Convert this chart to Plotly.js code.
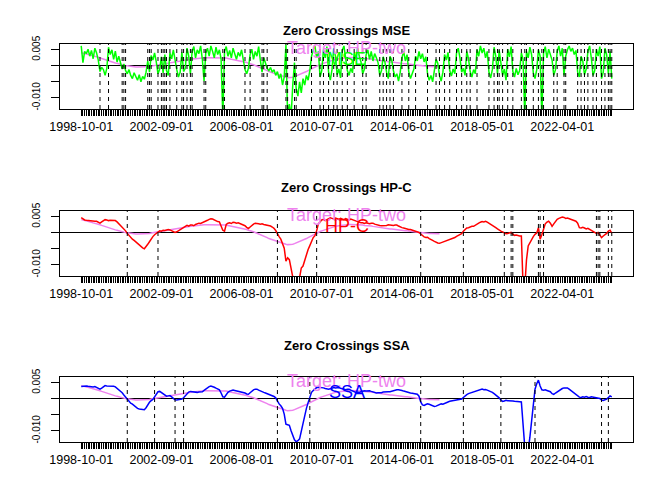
<!DOCTYPE html>
<html>
<head>
<meta charset="utf-8">
<script src="https://cdn.plot.ly/plotly-3.0.1.min.js"></script>
<style>
  body { margin: 0; background: white; }
  #zeroDiv { width: 664px; height: 498px; }
</style>
</head>
<body>
<div id="zeroDiv"></div>
<script>
// Zero crossings of three real-time filters against the HP-two target
// monthly observations 1998-10-01 .. 2024-09-01, x axis is the observation number

var labelIdx = [1, 48, 95, 142, 189, 236, 283];
var labelText = ['1998-10-01', '2002-09-01', '2006-08-01', '2010-07-01', '2014-06-01', '2018-05-01', '2022-04-01'];

// two-sided target, ends before the sample does
var target = [
  0.0041, 0.0040, 0.0038, 0.0037, 0.0036, 0.0034, 0.0033, 0.0031, 0.0030, 0.0028,
  0.0026, 0.0025, 0.0023, 0.0021, 0.0020, 0.0018, 0.0016, 0.0014, 0.0013, 0.0011,
  0.0009, 0.0008, 0.0006, 0.0005, 0.0003, 0.0002, 0.0001, 0.0000, -0.0002, -0.0003,
  -0.0003, -0.0004, -0.0004, -0.0004, -0.0004, -0.0004, -0.0004, -0.0003, -0.0003, -0.0002,
  -0.0002, -0.0001, 0.0000, 0.0001, 0.0002, 0.0003, 0.0004, 0.0005, 0.0006, 0.0007,
  0.0008, 0.0009, 0.0010, 0.0011, 0.0012, 0.0013, 0.0014, 0.0015, 0.0016, 0.0017,
  0.0017, 0.0018, 0.0019, 0.0020, 0.0021, 0.0021, 0.0022, 0.0022, 0.0023, 0.0023,
  0.0024, 0.0024, 0.0025, 0.0025, 0.0025, 0.0026, 0.0026, 0.0026, 0.0026, 0.0026,
  0.0026, 0.0025, 0.0025, 0.0025, 0.0024, 0.0024, 0.0023, 0.0022, 0.0021, 0.0020,
  0.0019, 0.0018, 0.0017, 0.0016, 0.0015, 0.0013, 0.0012, 0.0010, 0.0008, 0.0007,
  0.0005, 0.0003, 0.0001, -0.0001, -0.0003, -0.0005, -0.0008, -0.0010, -0.0013, -0.0015,
  -0.0018, -0.0020, -0.0022, -0.0024, -0.0026, -0.0028, -0.0030, -0.0032, -0.0034, -0.0035,
  -0.0036, -0.0037, -0.0037, -0.0037, -0.0036, -0.0034, -0.0032, -0.0030, -0.0028, -0.0026,
  -0.0023, -0.0021, -0.0018, -0.0015, -0.0012, -0.0009, -0.0006, -0.0003, -0.0001, 0.0002,
  0.0004, 0.0006, 0.0008, 0.0010, 0.0012, 0.0014, 0.0016, 0.0017, 0.0019, 0.0020,
  0.0021, 0.0022, 0.0023, 0.0024, 0.0025, 0.0025, 0.0026, 0.0026, 0.0026, 0.0026,
  0.0026, 0.0026, 0.0025, 0.0025, 0.0024, 0.0024, 0.0023, 0.0023, 0.0022, 0.0021,
  0.0021, 0.0020, 0.0019, 0.0018, 0.0018, 0.0017, 0.0016, 0.0015, 0.0015, 0.0014,
  0.0013, 0.0012, 0.0012, 0.0011, 0.0010, 0.0010, 0.0009, 0.0008, 0.0008, 0.0007,
  0.0006, 0.0006, 0.0005, 0.0004, 0.0004, 0.0003, 0.0002, 0.0002, 0.0001, 0.0001,
  0.0000, 0.0000, -0.0001, -0.0001, -0.0002, -0.0002, -0.0002, -0.0003, -0.0003, -0.0003,
  -0.0003
];

var mse = [
  0.0062, 0.0010, 0.0045, 0.0038, 0.0052, 0.0030, 0.0048, 0.0022, 0.0055, 0.0040,
  0.0018, -0.0018, -0.0005, -0.0012, -0.0030, -0.0008, 0.0058, 0.0035, 0.0050, 0.0020,
  0.0046, 0.0012, 0.0030, 0.0008, -0.0010, 0.0006, -0.0015, -0.0025, -0.0012, -0.0030,
  -0.0040, -0.0022, -0.0035, -0.0045, -0.0028, -0.0050, -0.0033, -0.0042, -0.0020, 0.0015,
  -0.0020, 0.0032, 0.0018, 0.0040, 0.0012, -0.0025, -0.0010, 0.0028, -0.0022, 0.0035,
  -0.0015, -0.0030, 0.0040, 0.0022, 0.0050, 0.0015, -0.0012, -0.0035, -0.0020, 0.0042,
  -0.0018, -0.0008, 0.0055, 0.0030, -0.0025, 0.0045, 0.0060, 0.0025, 0.0050, 0.0038,
  0.0062, 0.0020, -0.0048, 0.0040, 0.0055, 0.0030, 0.0062, 0.0045, 0.0025, 0.0058,
  0.0035, 0.0050, 0.0020, -0.0160, 0.0045, 0.0060, 0.0030, 0.0048, 0.0025, 0.0055,
  0.0038, 0.0020, 0.0042, 0.0030, 0.0050, 0.0015, -0.0012, -0.0025, -0.0008, 0.0035,
  0.0052, 0.0020, 0.0045, 0.0030, 0.0060, 0.0018, -0.0020, 0.0025, 0.0010, -0.0008,
  -0.0015, -0.0005, -0.0020, -0.0012, -0.0030, -0.0018, -0.0040, -0.0025, -0.0060, -0.0035,
  0.0066, -0.0160, -0.0120, -0.0160, -0.0060, 0.0010, -0.0070, -0.0095, -0.0050, -0.0085,
  -0.0040, -0.0060, -0.0030, -0.0045, -0.0015, 0.0030, 0.0050, 0.0062, 0.0025, 0.0045,
  -0.0035, -0.0015, 0.0050, 0.0025, 0.0060, -0.0020, -0.0045, -0.0012, 0.0055, 0.0030,
  -0.0028, -0.0010, -0.0038, 0.0048, 0.0062, 0.0022, -0.0015, -0.0030, -0.0008, -0.0022,
  0.0040, 0.0020, 0.0055, 0.0030, 0.0012, -0.0025, -0.0010, 0.0035, 0.0050, 0.0020,
  0.0045, 0.0015, 0.0038, 0.0025, 0.0010, -0.0030, -0.0015, 0.0028, 0.0012, -0.0020,
  -0.0040, 0.0030, 0.0018, -0.0015, -0.0035, -0.0025, -0.0048, -0.0020, 0.0025, 0.0045,
  0.0015, 0.0035, -0.0018, -0.0040, -0.0022, -0.0010, 0.0030, 0.0015, 0.0045, 0.0022,
  0.0038, 0.0012, 0.0028, -0.0025, -0.0045, -0.0030, -0.0050, -0.0015, 0.0020, 0.0008,
  -0.0030, -0.0048, -0.0020, 0.0035, 0.0018, 0.0042, -0.0015, -0.0032, -0.0010, -0.0025,
  0.0040, 0.0055, 0.0025, -0.0020, -0.0008, -0.0030, 0.0045, 0.0022, -0.0018, -0.0035,
  -0.0012, -0.0025, 0.0050, 0.0030, 0.0062, 0.0040, 0.0055, 0.0025, 0.0045, -0.0020,
  -0.0038, -0.0012, 0.0058, 0.0030, -0.0025, 0.0048, 0.0015, -0.0030, -0.0010, -0.0045,
  0.0052, 0.0028, 0.0060, -0.0018, -0.0035, -0.0008, -0.0028, -0.0015, 0.0040, 0.0020,
  -0.0160, 0.0045, 0.0025, 0.0058, 0.0035, -0.0022, -0.0040, -0.0012, 0.0050, 0.0030,
  -0.0160, 0.0040, 0.0060, 0.0025, 0.0052, 0.0035, 0.0018, -0.0030, -0.0012, 0.0045,
  0.0062, 0.0030, 0.0055, -0.0030, 0.0030, 0.0050, 0.0062, 0.0045, 0.0055, 0.0035,
  0.0048, -0.0020, -0.0035, 0.0030, 0.0015, -0.0028, -0.0010, 0.0045, 0.0062, 0.0025,
  -0.0030, -0.0015, 0.0052, 0.0030, 0.0060, -0.0040, -0.0020, 0.0055, 0.0035, -0.0025,
  0.0045, -0.0040
];

var hpc = [
  0.0047, 0.0042, 0.0040, 0.0039, 0.0038, 0.0038, 0.0037, 0.0037, 0.0036, 0.0036,
  0.0033, 0.0030, 0.0034, 0.0038, 0.0041, 0.0040, 0.0038, 0.0039, 0.0038, 0.0037,
  0.0038, 0.0034, 0.0029, 0.0024, 0.0019, 0.0012, 0.0006, -0.0002, -0.0009, -0.0015,
  -0.0020, -0.0024, -0.0029, -0.0034, -0.0039, -0.0043, -0.0047, -0.0050, -0.0044, -0.0036,
  -0.0028, -0.0019, -0.0012, -0.0006, -0.0002, 0.0003, 0.0006, 0.0005, 0.0008, 0.0007,
  0.0009, 0.0010, 0.0009, 0.0006, 0.0003, 0.0001, 0.0003, 0.0006, 0.0009, 0.0013,
  0.0017, 0.0020, 0.0023, 0.0021, 0.0024, 0.0024, 0.0022, 0.0026, 0.0028, 0.0030,
  0.0029, 0.0031, 0.0033, 0.0036, 0.0039, 0.0042, 0.0044, 0.0043, 0.0040, 0.0037,
  0.0035, 0.0034, 0.0022, 0.0008, 0.0005, 0.0026, 0.0030, 0.0031, 0.0029, 0.0033,
  0.0032, 0.0030, 0.0031, 0.0029, 0.0027, 0.0026, 0.0022, 0.0017, 0.0013, 0.0018,
  0.0024, 0.0027, 0.0030, 0.0030, 0.0028, 0.0027, 0.0028, 0.0026, 0.0025, 0.0025,
  0.0023, 0.0021, 0.0018, 0.0014, 0.0007, -0.0004, -0.0012, -0.0020, -0.0036, -0.0048,
  -0.0089, -0.0078, -0.0084, -0.0115, -0.0145, -0.0165, -0.0170, -0.0165, -0.0140, -0.0110,
  -0.0104, -0.0085, -0.0068, -0.0052, -0.0040, -0.0028, -0.0015, -0.0009, 0.0006, 0.0028,
  0.0036, 0.0040, 0.0042, 0.0038, 0.0041, 0.0044, 0.0047, 0.0045, 0.0043, 0.0046,
  0.0044, 0.0042, 0.0045, 0.0043, 0.0041, 0.0044, 0.0042, 0.0040, 0.0043, 0.0041,
  0.0039, 0.0036, 0.0034, 0.0033, 0.0031, 0.0031, 0.0029, 0.0031, 0.0030, 0.0028,
  0.0030, 0.0030, 0.0027, 0.0025, 0.0024, 0.0023, 0.0022, 0.0022, 0.0024, 0.0023,
  0.0025, 0.0024, 0.0022, 0.0023, 0.0024, 0.0024, 0.0021, 0.0018, 0.0016, 0.0015,
  0.0013, 0.0012, 0.0010, 0.0010, 0.0008, 0.0006, 0.0004, 0.0003, 0.0001, -0.0004,
  -0.0009, -0.0013, -0.0015, -0.0014, -0.0018, -0.0020, -0.0024, -0.0027, -0.0030, -0.0032,
  -0.0033, -0.0031, -0.0028, -0.0027, -0.0026, -0.0022, -0.0020, -0.0018, -0.0017, -0.0015,
  -0.0011, -0.0008, -0.0006, -0.0003, 0.0005, 0.0010, 0.0015, 0.0016, 0.0019, 0.0020,
  0.0020, 0.0024, 0.0027, 0.0030, 0.0033, 0.0035, 0.0034, 0.0036, 0.0033, 0.0030,
  0.0027, 0.0022, 0.0019, 0.0016, 0.0012, 0.0008, 0.0005, 0.0003, -0.0001, -0.0003,
  -0.0002, -0.0001, 0.0001, -0.0004, -0.0008, -0.0007, -0.0009, -0.0010, -0.0010, -0.0165,
  -0.0170, -0.0085, -0.0041, -0.0030, -0.0022, -0.0012, -0.0005, -0.0001, 0.0016, -0.0020,
  -0.0006, 0.0012, 0.0028, 0.0033, 0.0036, 0.0030, 0.0020, 0.0028, 0.0036, 0.0042,
  0.0045, 0.0047, 0.0049, 0.0048, 0.0045, 0.0046, 0.0044, 0.0042, 0.0038, 0.0036,
  0.0036, 0.0030, 0.0016, 0.0015, 0.0017, 0.0015, 0.0012, 0.0014, 0.0011, 0.0008,
  0.0005, 0.0002, -0.0002, 0.0001, -0.0008, -0.0015, -0.0010, -0.0006, -0.0002, 0.0005,
  0.0008, -0.0001
];

var ssa = [
  0.0038, 0.0039, 0.0038, 0.0040, 0.0039, 0.0038, 0.0039, 0.0037, 0.0038, 0.0036,
  0.0034, 0.0030, 0.0033, 0.0038, 0.0041, 0.0040, 0.0040, 0.0039, 0.0040, 0.0039,
  0.0037, 0.0033, 0.0029, 0.0025, 0.0019, 0.0012, 0.0005, -0.0003, -0.0009, -0.0014,
  -0.0017, -0.0022, -0.0027, -0.0030, -0.0032, -0.0033, -0.0034, -0.0034, -0.0028, -0.0018,
  -0.0011, -0.0006, -0.0002, 0.0006, 0.0015, 0.0022, 0.0023, 0.0019, 0.0015, 0.0012,
  0.0008, 0.0009, 0.0010, 0.0006, 0.0002, -0.0003, -0.0004, -0.0003, -0.0004, -0.0001,
  0.0003, 0.0010, 0.0016, 0.0021, 0.0023, 0.0022, 0.0020, 0.0021, 0.0020, 0.0021,
  0.0022, 0.0022, 0.0026, 0.0031, 0.0035, 0.0038, 0.0040, 0.0039, 0.0036, 0.0033,
  0.0031, 0.0028, 0.0018, 0.0006, 0.0005, 0.0014, 0.0020, 0.0024, 0.0026, 0.0027,
  0.0026, 0.0025, 0.0024, 0.0022, 0.0021, 0.0020, 0.0018, 0.0015, 0.0014, 0.0019,
  0.0025, 0.0028, 0.0030, 0.0030, 0.0027, 0.0024, 0.0021, 0.0020, 0.0018, 0.0016,
  0.0015, 0.0013, 0.0010, 0.0007, 0.0003, -0.0008, -0.0016, -0.0022, -0.0030, -0.0048,
  -0.0079, -0.0081, -0.0083, -0.0100, -0.0118, -0.0128, -0.0134, -0.0131, -0.0125, -0.0100,
  -0.0075, -0.0050, -0.0030, -0.0012, 0.0008, 0.0020, 0.0026, 0.0031, 0.0035, 0.0036,
  0.0036, 0.0035, 0.0034, 0.0032, 0.0030, 0.0030, 0.0031, 0.0033, 0.0035, 0.0034,
  0.0035, 0.0035, 0.0033, 0.0031, 0.0030, 0.0028, 0.0030, 0.0030, 0.0027, 0.0024,
  0.0022, 0.0020, 0.0021, 0.0020, 0.0022, 0.0024, 0.0025, 0.0024, 0.0025, 0.0025,
  0.0023, 0.0021, 0.0019, 0.0018, 0.0019, 0.0018, 0.0019, 0.0021, 0.0022, 0.0021,
  0.0022, 0.0022, 0.0024, 0.0026, 0.0027, 0.0028, 0.0028, 0.0028, 0.0026, 0.0024,
  0.0022, 0.0021, 0.0020, 0.0018, 0.0017, 0.0016, 0.0015, 0.0014, 0.0008, -0.0010,
  -0.0019, -0.0021, -0.0018, -0.0016, -0.0017, -0.0019, -0.0022, -0.0024, -0.0023, -0.0020,
  -0.0018, -0.0016, -0.0017, -0.0014, -0.0012, -0.0010, -0.0008, -0.0007, -0.0005, -0.0004,
  -0.0004, -0.0003, -0.0003, -0.0001, 0.0004, 0.0010, 0.0013, 0.0016, 0.0018, 0.0020,
  0.0020, 0.0022, 0.0025, 0.0028, 0.0030, 0.0030, 0.0028, 0.0029, 0.0027, 0.0025,
  0.0024, 0.0020, 0.0016, 0.0012, 0.0008, 0.0003, -0.0004, -0.0008, -0.0007, -0.0005,
  -0.0006, -0.0006, -0.0005, -0.0007, -0.0008, -0.0008, -0.0007, -0.0009, -0.0010, -0.0083,
  -0.0150, -0.0170, -0.0160, -0.0120, -0.0073, -0.0010, 0.0030, 0.0047, 0.0058, 0.0040,
  0.0028, 0.0027, 0.0028, 0.0026, 0.0025, 0.0022, 0.0016, 0.0014, 0.0018, 0.0022,
  0.0026, 0.0029, 0.0032, 0.0034, 0.0035, 0.0034, 0.0030, 0.0026, 0.0022, 0.0017,
  0.0012, 0.0008, 0.0005, 0.0004, 0.0006, 0.0005, 0.0007, 0.0005, 0.0004, 0.0006,
  0.0005, 0.0003, 0.0004, 0.0002, 0.0001, -0.0004, -0.0005, -0.0003, -0.0001, 0.0004,
  0.0009, 0.0006
];

var panels = [
  {name: 'MSE', values: mse, color: '#00FF00'},
  {name: 'HP-C', values: hpc, color: '#FF0000'},
  {name: 'SSA', values: ssa, color: '#0000FF'}
];

// observation numbers
var obs = [];
for (var i = 1; i <= hpc.length; i++) obs.push(i);
var obsTarget = obs.slice(0, target.length);

// every month gets a tick, only a few carry a date
var tickText = obs.map(function(k) {
  var j = labelIdx.indexOf(k);
  return j >= 0 ? labelText[j] : '';
});

// positions where the sign changes (first obs with the new sign)
function zeroCrossings(v) {
  var out = [];
  for (var k = 1; k < v.length; k++) {
    if ((v[k] >= 0) !== (v[k - 1] >= 0)) out.push(k + 1);
  }
  return out;
}

var fontFam = '"Liberation Sans", Arial, Helvetica, sans-serif';
var domains = [[0.7811, 0.9116], [0.4458, 0.5763], [0.1124, 0.2430]];
var titleY = [0.9578, 0.6225, 0.2871];
var xRange = [1 - 0.04 * (hpc.length - 1), hpc.length + 0.04 * (hpc.length - 1)];
var yRange = [-0.0135, 0.0068];

var data = [];
var shapes = [];
var annotations = [];
var layout = {
  width: 664,
  height: 498,
  margin: {l: 60, r: 31, t: 0, b: 0},
  paper_bgcolor: 'white',
  plot_bgcolor: 'white',
  showlegend: false,
  font: {family: fontFam, color: 'black', size: 12}
};

panels.forEach(function(p, n) {
  var sfx = n === 0 ? '' : String(n + 1);
  var xa = 'x' + sfx, ya = 'y' + sfx;

  data.push({
    type: 'scatter', mode: 'lines', x: obsTarget, y: target,
    xaxis: xa, yaxis: ya, hoverinfo: 'skip',
    line: {color: '#EE82EE', width: 1.5}
  });
  data.push({
    type: 'scatter', mode: 'lines', x: obs, y: p.values,
    xaxis: xa, yaxis: ya, name: p.name,
    line: {color: p.color, width: 1.5}
  });

  zeroCrossings(p.values).forEach(function(c) {
    shapes.push({
      type: 'line', xref: xa, yref: ya + ' domain',
      x0: c, x1: c, y0: 0, y1: 1,
      line: {color: 'black', width: 1, dash: '4px,4px'}
    });
  });

  layout['xaxis' + sfx] = {
    anchor: ya, range: xRange, tickmode: 'array', tickvals: obs, ticktext: tickText,
    ticks: 'outside', ticklen: 6, tickwidth: 1, tickcolor: 'black', tickangle: 0,
    tickfont: {size: 12.5}, showgrid: false, zeroline: false,
    showline: true, mirror: true, linecolor: 'black', linewidth: 1
  };
  layout['yaxis' + sfx] = {
    anchor: xa, domain: domains[n], range: yRange, tickmode: 'array',
    tickvals: [-0.01, -0.005, 0, 0.005], ticktext: ['-0.010', '', '', '0.005'],
    ticks: 'outside', ticklen: 8, tickwidth: 1, tickcolor: 'black', tickangle: -90,
    tickfont: {size: 10}, ticklabelstandoff: 7, showgrid: false,
    zeroline: true, zerolinecolor: 'black', zerolinewidth: 1,
    showline: true, mirror: true, linecolor: 'black', linewidth: 1
  };

  annotations.push({
    xref: 'paper', yref: 'paper', x: 0.5, y: titleY[n], showarrow: false,
    text: '<b>Zero Crossings ' + p.name + '</b>', font: {size: 13}
  });
  annotations.push({
    xref: xa + ' domain', yref: ya + ' domain', x: 0.5, y: 1, yanchor: 'middle',
    yshift: -4, showarrow: false, text: 'Target: HP-two',
    font: {size: 18, color: '#EE82EE'}
  });
  annotations.push({
    xref: xa + ' domain', yref: ya + ' domain', x: 0.5, y: 1, yanchor: 'middle',
    yshift: -15, showarrow: false, text: p.name,
    font: {size: 18, color: p.color}
  });
});

layout.shapes = shapes;
layout.annotations = annotations;

Plotly.newPlot('zeroDiv', data, layout, {displayModeBar: false, staticPlot: true});
</script>
</body>
</html>
